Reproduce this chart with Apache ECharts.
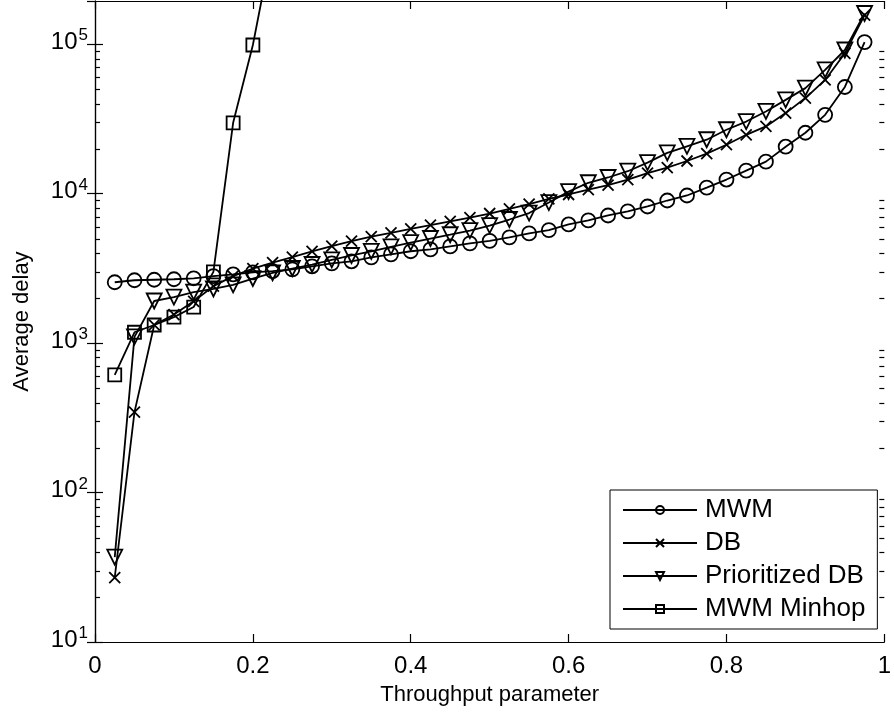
<!DOCTYPE html>
<html>
<head>
<meta charset="utf-8">
<script src="https://cdn.jsdelivr.net/npm/echarts@6/dist/echarts.min.js"></script>
<style>
  html, body { margin: 0; padding: 0; background: #fff; }
  #chart { width: 894px; height: 717px; }
</style>
</head>
<body>
<div id="chart"></div>
<script>
// throughput parameter (x)
var throughput = [0.025, 0.05, 0.075, 0.1, 0.125, 0.15, 0.175, 0.2, 0.225, 0.25,
  0.275, 0.3, 0.325, 0.35, 0.375, 0.4, 0.425, 0.45, 0.475, 0.5,
  0.525, 0.55, 0.575, 0.6, 0.625, 0.65, 0.675, 0.7, 0.725, 0.75,
  0.775, 0.8, 0.825, 0.85, 0.875, 0.9, 0.925, 0.95, 0.975];

var mwm = [2550, 2630, 2650, 2670, 2710, 2800, 2880, 2970, 3030, 3110,
  3260, 3410, 3520, 3740, 3920, 4110, 4230, 4430, 4640, 4820,
  5090, 5410, 5690, 6210, 6610, 7130, 7590, 8190, 8980, 9700,
  10960, 12400, 14230, 16340, 20570, 25500, 33600, 51600, 103000];

var db = [27, 345, 1320, 1550, 1900, 2400, 2800, 3150, 3450, 3750,
  4100, 4450, 4800, 5150, 5450, 5800, 6150, 6500, 6900, 7350,
  7900, 8500, 9200, 9850, 10600, 11400, 12400, 13700, 14900, 16500,
  18500, 21200, 24700, 28100, 34500, 43500, 57500, 86700, 156000];

var prioDb = [37, 1100, 1910, 2030, 2190, 2300, 2450, 2700, 2950, 3150,
  3350, 3600, 3850, 4100, 4400, 4700, 5000, 5300, 5650, 6100,
  6700, 7400, 8700, 10300, 11800, 12800, 14100, 16100, 18700, 20700,
  22900, 26700, 30300, 35400, 42300, 50700, 67100, 91200, 160000];

var minhop = [612, 1180, 1320, 1490, 1740, 2990, 29700, 98500, 470000];

var yMin = 10, yMax = 194000;
var minorTickVals = [];
[10, 100, 1000, 10000, 100000].forEach(function (d) {
  for (var k = 2; k <= 9; k++) {
    if (d * k < yMax) minorTickVals.push(d * k);
  }
});

function pairs(vals) {
  return vals.map(function (v, i) { return [throughput[i], v]; });
}

var FONT = '"Liberation Sans", Arial, Helvetica, sans-serif';
var chart = echarts.init(document.getElementById('chart'), null, { renderer: 'canvas' });

function baseSeries(name, data, symbol, size, extra) {
  var s = {
    name: name,
    type: 'line',
    data: data,
    symbol: symbol,
    symbolSize: size,
    showAllSymbol: true,
    clip: true,
    lineStyle: { color: '#000', width: 1.8 },
    itemStyle: { color: 'rgba(0,0,0,0)', borderColor: '#000', borderWidth: 1.8 },
    emphasis: { disabled: true },
    z: 3
  };
  return Object.assign(s, extra || {});
}

var tickStyle = { show: true, inside: true, length: 8, lineStyle: { color: '#000', width: 1.2 } };
var lineStyle = { show: true, lineStyle: { color: '#000', width: 1.2 } };

var option = {
  animation: false,
  backgroundColor: '#fff',
  textStyle: { fontFamily: FONT, color: '#000' },
  grid: { left: 95, right: 5, top: 1, bottom: 75, containLabel: false },
  legend: {
    data: ['MWM', 'DB', 'Prioritized DB', 'MWM Minhop'],
    orient: 'vertical',
    left: 610,
    top: 490,
    padding: [7, 12, 7, 12],
    itemGap: 7,
    itemWidth: 74,
    itemHeight: 10,
    backgroundColor: '#fff',
    borderColor: '#000',
    borderWidth: 1,
    textStyle: { fontFamily: FONT, fontSize: 26, color: '#000', padding: [0, 0, 0, 3] }
  },
  xAxis: [{
    type: 'value',
    min: 0,
    max: 1,
    interval: 0.2,
    name: 'Throughput parameter',
    nameLocation: 'middle',
    nameGap: 42,
    nameTextStyle: { fontFamily: FONT, fontSize: 22, color: '#000' },
    axisLine: lineStyle,
    axisTick: tickStyle,
    axisLabel: {
      fontFamily: FONT, fontSize: 24, color: '#000', margin: 12,
      formatter: function (v) { return String(Math.round(v * 10) / 10); }
    },
    splitLine: { show: false }
  }, {
    type: 'value',
    position: 'top',
    min: 0,
    max: 1,
    interval: 0.2,
    axisLine: lineStyle,
    axisTick: tickStyle,
    axisLabel: { show: false },
    splitLine: { show: false }
  }],
  yAxis: [{
    type: 'log',
    logBase: 10,
    min: yMin,
    max: yMax,
    name: 'Average delay',
    nameLocation: 'middle',
    nameGap: 62,
    nameTextStyle: { fontFamily: FONT, fontSize: 22, color: '#000' },
    axisLine: lineStyle,
    axisTick: tickStyle,
    axisLabel: {
      fontFamily: FONT, fontSize: 24, color: '#000', margin: 7,
      showMaxLabel: false,
      lineHeight: 24,
      padding: [0, 0, 4, 0],
      formatter: function (v) {
        var e = Math.log10(v);
        if (Math.abs(e - Math.round(e)) > 1e-6) return '';
        return '10{e|' + Math.round(e) + '}';
      },
      rich: {
        e: { fontFamily: FONT, fontSize: 17, color: '#000', lineHeight: 17, padding: [0, 0, 13, 1] }
      }
    },
    splitLine: { show: false }
  }, {
    type: 'log',
    logBase: 10,
    min: yMin,
    max: yMax,
    position: 'right',
    axisLine: lineStyle,
    axisTick: tickStyle,
    axisLabel: { show: false },
    splitLine: { show: false }
  }],
  series: [
    baseSeries('MWM', pairs(mwm), 'circle', 14),
    baseSeries('DB', pairs(db), 'path://M0,0L10,10M10,0L0,10', 11),
    baseSeries('Prioritized DB', pairs(prioDb), 'triangle', 15, { symbolRotate: 180 }),
    baseSeries('MWM Minhop', pairs(minhop), 'rect', 13),
    {
      // minor log ticks on the left and right edges
      type: 'custom',
      silent: true,
      clip: false,
      z: 5,
      data: minorTickVals.map(function (v) { return [0.5, v]; }),
      renderItem: function (params, api) {
        var y = Math.round(api.coord([0.5, api.value(1)])[1]) + 0.5;
        var left = api.coord([0, 10])[0];
        var right = api.coord([1, 10])[0];
        return {
          type: 'group',
          children: [
            { type: 'line', shape: { x1: left, y1: y, x2: left + 5, y2: y },
              style: { stroke: '#000', lineWidth: 1.2 } },
            { type: 'line', shape: { x1: right - 5, y1: y, x2: right, y2: y },
              style: { stroke: '#000', lineWidth: 1.2 } }
          ]
        };
      }
    }
  ]
};

chart.setOption(option);
</script>
</body>
</html>
